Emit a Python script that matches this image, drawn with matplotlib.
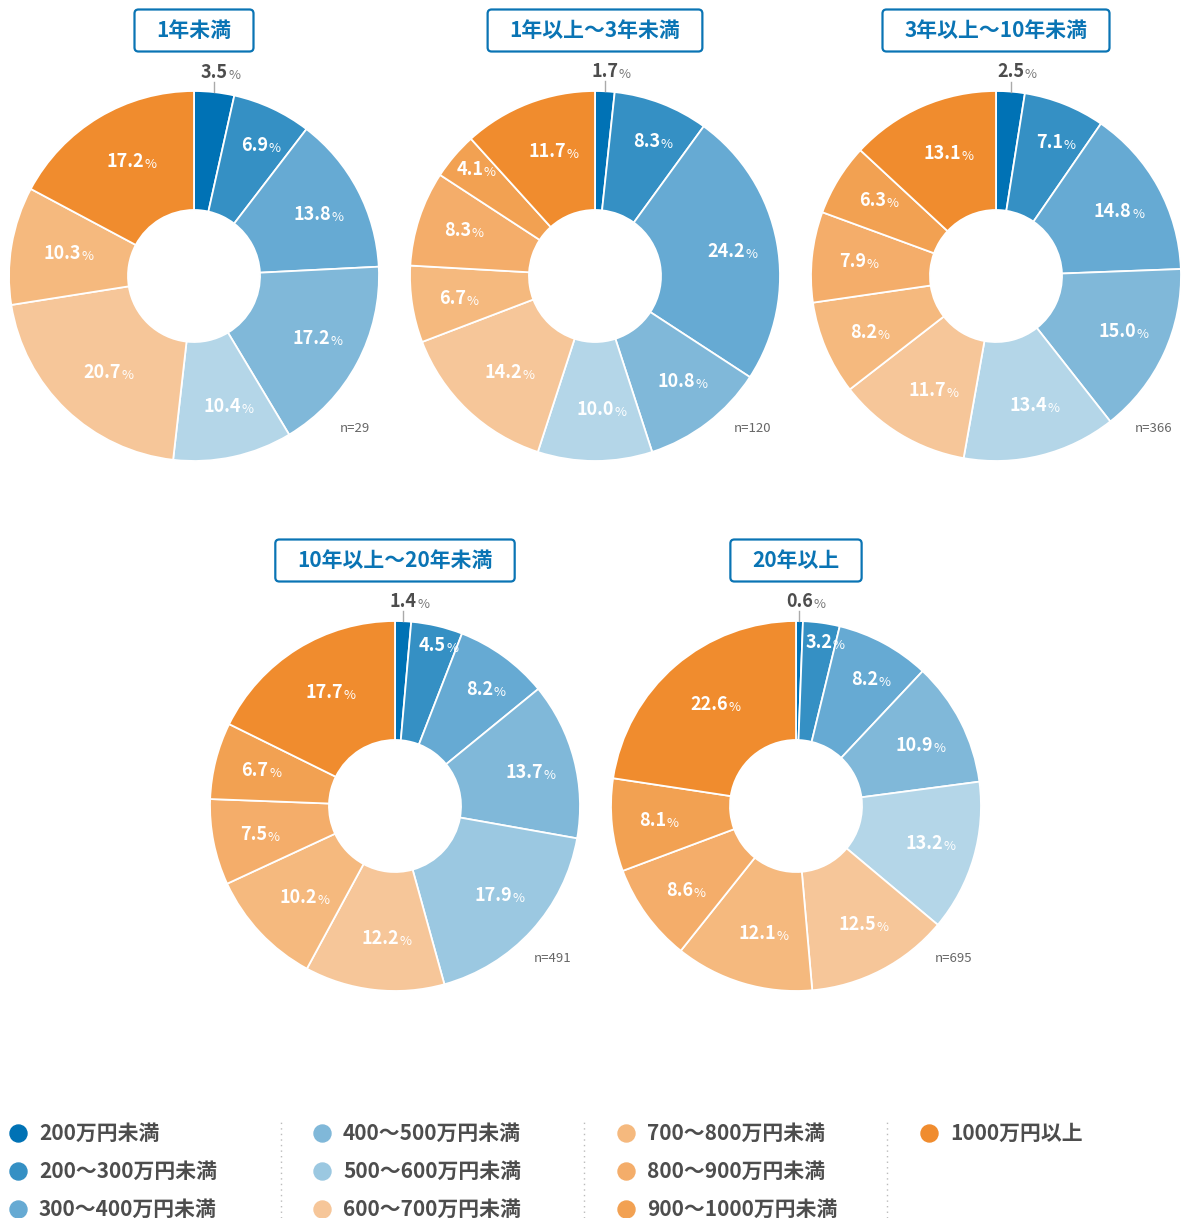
import numpy as np
import matplotlib.pyplot as plt
from matplotlib.patches import FancyBboxPatch

plt.rcParams['font.family'] = ['Noto Sans CJK JP', 'DejaVu Sans']

# income bands (legend order == slice order, clockwise from 12 o'clock)
categories = ['200万円未満', '200～300万円未満', '300～400万円未満',
              '400～500万円未満', '500～600万円未満', '600～700万円未満',
              '700～800万円未満', '800～900万円未満', '900～1000万円未満',
              '1000万円以上']

groups = ['1年未満', '1年以上～3年未満', '3年以上～10年未満',
          '10年以上～20年未満', '20年以上']
sample_sizes = [29, 120, 366, 491, 695]

share_lt1 = [3.5, 6.9, 13.8, 17.2, 10.4, 20.7, 10.3, 0.0, 0.0, 17.2]
share_1to3 = [1.7, 8.3, 24.2, 10.8, 10.0, 14.2, 6.7, 8.3, 4.1, 11.7]
share_3to10 = [2.5, 7.1, 14.8, 15.0, 13.4, 11.7, 8.2, 7.9, 6.3, 13.1]
share_10to20 = [1.4, 4.5, 8.2, 13.7, 17.9, 12.2, 10.2, 7.5, 6.7, 17.7]
share_20plus = [0.6, 3.2, 8.2, 10.9, 13.2, 12.5, 12.1, 8.6, 8.1, 22.6]
shares = [share_lt1, share_1to3, share_3to10, share_10to20, share_20plus]

palette = ['#0072b5', '#3590c4', '#66aad3', '#80b8d9', '#9bc8e1',
           '#f6c699', '#f5b97e', '#f4ad6a', '#f2a152', '#f08c2e']
pale_blue = '#b4d6e8'   # 500~600 band drawn paler in every chart but one
pale_charts = [0, 1, 2, 4]

W, H = 1181, 1218
centers = [(194, 276), (595, 276), (996, 276), (395, 806), (796, 806)]
R, R_IN = 185, 66
BLUE = '#0a74b4'
DARK = '#4d4d4d'

fig = plt.figure(figsize=(W / 100, H / 100), dpi=100)
ax = fig.add_axes([0, 0, 1, 1])
renderer = fig.canvas.get_renderer()


def pct_label(x, y, value, color, pct_color, size=13):
    num = ax.text(x, y, f'{value:.1f}', ha='center', va='center',
                  fontsize=size, weight='bold', color=color, zorder=5)
    ax.annotate('%', xy=(1, 0), xycoords=num, xytext=(0.3, 0),
                textcoords='offset points', ha='left', va='bottom',
                fontsize=size * 0.72, color=pct_color, zorder=5)


for k, (vals, (cx, cy)) in enumerate(zip(shares, centers)):
    cy = H - cy
    cols = list(palette)
    if k in pale_charts:
        cols[4] = pale_blue
    keep = [i for i, v in enumerate(vals) if v > 0]
    wedges, _ = ax.pie([vals[i] for i in keep],
                       colors=[cols[i] for i in keep],
                       center=(cx, cy), radius=R, startangle=90,
                       counterclock=False,
                       wedgeprops=dict(width=R - R_IN, edgecolor='white',
                                       linewidth=1.3))
    for w, i in zip(wedges, keep):
        v = vals[i]
        mid = np.deg2rad((w.theta1 + w.theta2) / 2)
        if i == 0:
            # tiny first slice: label above with a short leader
            ex, ey = cx + R * np.cos(mid), cy + R * np.sin(mid)
            ax.plot([ex, ex], [ey, ey + 10], color='#aaaaaa', lw=1, zorder=4)
            pct_label(ex, ey + 20, v, DARK, '#777777')
            continue
        if v >= 10:
            f = 0.72
        elif v >= 5:
            f = 0.78
        else:
            f = 0.89
        pct_label(cx + f * R * np.cos(mid), cy + f * R * np.sin(mid),
                  v, 'white', 'white')

    ax.text(cx + 176, cy - 152, f'n={sample_sizes[k]}', ha='right',
            va='center', fontsize=9.5, color='#666666')

    # title in a rounded box
    ty = cy + 245.5
    t = ax.text(cx, ty, groups[k], ha='center', va='center', fontsize=15,
                weight='bold', color=BLUE, zorder=3)
    tw = t.get_window_extent(renderer=renderer).width
    ax.add_patch(FancyBboxPatch((cx - tw / 2 - 22, ty - 21), tw + 44, 42,
                                boxstyle='round,pad=0,rounding_size=4',
                                fc='white', ec=BLUE, lw=1.6, zorder=2))

# legend: 4 columns of 3 rows
col_x = [18, 322, 626, 929]
row_y = [85, 47, 9]
for i, name in enumerate(categories):
    x, y = col_x[i // 3], row_y[i % 3]
    ax.scatter([x], [y], s=150, color=palette[i], zorder=3)
    ax.text(x + 21, y, name, ha='left', va='center', fontsize=15,
            weight='bold', color=DARK)
for sx in [281, 584, 887]:
    ax.plot([sx, sx], [0, 96], ls=(0, (1, 3)), color='#bbbbbb', lw=1)

ax.set_aspect('equal')
ax.set_xlim(0, W)
ax.set_ylim(0, H)
ax.axis('off')

fig.savefig('out.png', dpi=100)
